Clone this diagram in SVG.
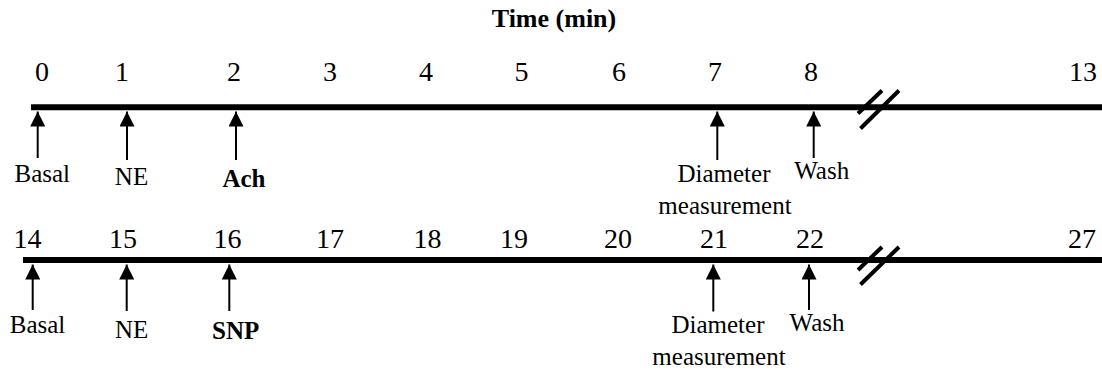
<svg xmlns="http://www.w3.org/2000/svg" width="1102" height="372" viewBox="0 0 1102 372">
  <style>
    text { fill: #000; text-anchor: middle; font-family: 'Liberation Serif', 'Times New Roman', serif; }
    .title { font-size: 26px; font-weight: bold; }
    .num { font-size: 28px; }
    .lbl { font-size: 25px; }
    .bold { font-weight: bold; }
    .axis { stroke: #000; stroke-width: 6; fill: none; }
    .brk { stroke: #000; stroke-width: 4; fill: none; }
    .arrow { stroke: #000; stroke-width: 2; fill: none; marker-end: url(#head); }
  </style>
  <defs>
    <marker id="head" markerUnits="userSpaceOnUse" markerWidth="15" markerHeight="15" refX="15" refY="7.5" orient="auto" viewBox="0 0 15 15">
      <path d="M0,0 L15,7.5 L0,15 Z" fill="#000"/>
    </marker>
  </defs>

  <rect width="1102" height="372" fill="#fff"/>

  <text class="title" x="554" y="27">Time (min)</text>

  <!-- time axes with break marks, and event arrows -->
  <g id="connectors">
    <line class="axis" x1="31" y1="107.3" x2="1102" y2="107.3"/>
    <line class="brk" x1="858" y1="113.5" x2="882" y2="90.5"/>
    <line class="brk" x1="860.5" y1="128.5" x2="899" y2="90.5"/>

    <line class="axis" x1="23" y1="260" x2="1102" y2="260"/>
    <line class="brk" x1="858" y1="270" x2="882" y2="247"/>
    <line class="brk" x1="860.5" y1="284.5" x2="899" y2="247"/>

    <!-- first session -->
    <line class="arrow" x1="37.7" y1="158" x2="37.7" y2="111.5"/>
    <line class="arrow" x1="127" y1="160" x2="127" y2="111.5"/>
    <line class="arrow" x1="236" y1="160" x2="236" y2="111.5"/>
    <line class="arrow" x1="717.3" y1="160" x2="717.3" y2="111.5"/>
    <line class="arrow" x1="813.7" y1="158" x2="813.7" y2="111.5"/>

    <!-- second session -->
    <line class="arrow" x1="32.7" y1="310" x2="32.7" y2="264.5"/>
    <line class="arrow" x1="126.7" y1="311" x2="126.7" y2="264.5"/>
    <line class="arrow" x1="229.3" y1="311" x2="229.3" y2="264.5"/>
    <line class="arrow" x1="713.3" y1="311.5" x2="713.3" y2="264.5"/>
    <line class="arrow" x1="809" y1="310" x2="809" y2="264.5"/>
  </g>

  <!-- minute ticks, first session -->
  <g id="ticks-top">
    <text class="num" x="42" y="81">0</text>
    <text class="num" x="122" y="81">1</text>
    <text class="num" x="234" y="81">2</text>
    <text class="num" x="330" y="81">3</text>
    <text class="num" x="426" y="81">4</text>
    <text class="num" x="521.5" y="81">5</text>
    <text class="num" x="619" y="81">6</text>
    <text class="num" x="715" y="81">7</text>
    <text class="num" x="811" y="81">8</text>
    <text class="num" x="1083" y="81">13</text>
  </g>

  <!-- minute ticks, second session -->
  <g id="ticks-bottom">
    <text class="num" x="27.5" y="247.5">14</text>
    <text class="num" x="123" y="247.5">15</text>
    <text class="num" x="227.5" y="247.5">16</text>
    <text class="num" x="330" y="247.5">17</text>
    <text class="num" x="427.5" y="247.5">18</text>
    <text class="num" x="514" y="247.5">19</text>
    <text class="num" x="618" y="247.5">20</text>
    <text class="num" x="714" y="247.5">21</text>
    <text class="num" x="810" y="247.5">22</text>
    <text class="num" x="1082" y="247.5">27</text>
  </g>

  <!-- first session events -->
  <g id="basal-1"><text class="lbl" x="42.3" y="182">Basal</text></g>
  <g id="ne-1"><text class="lbl" x="131.5" y="185">NE</text></g>
  <g id="ach"><text class="lbl bold" x="244" y="187">Ach</text></g>
  <g id="diameter-1">
    <text class="lbl" x="724" y="181.7">Diameter</text>
    <text class="lbl" x="725" y="213.5">measurement</text>
  </g>
  <g id="wash-1"><text class="lbl" x="821.7" y="179">Wash</text></g>

  <!-- second session events -->
  <g id="basal-2"><text class="lbl" x="37.5" y="333.3">Basal</text></g>
  <g id="ne-2"><text class="lbl" x="131.7" y="338">NE</text></g>
  <g id="snp"><text class="lbl bold" x="235.7" y="339">SNP</text></g>
  <g id="diameter-2">
    <text class="lbl" x="718" y="333.3">Diameter</text>
    <text class="lbl" x="719" y="365">measurement</text>
  </g>
  <g id="wash-2"><text class="lbl" x="817" y="330.7">Wash</text></g>
</svg>
